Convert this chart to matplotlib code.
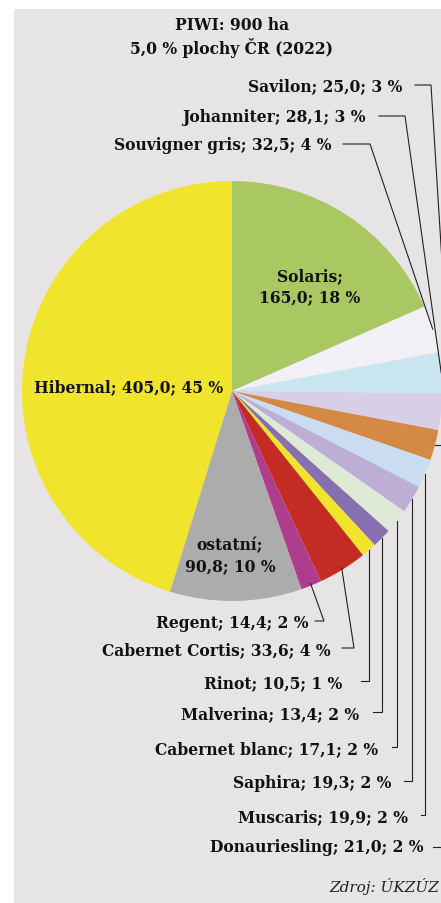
import matplotlib
matplotlib.use("Agg")
import matplotlib.pyplot as plt
import numpy as np

# ---- data ----
varieties = ["Solaris", "Souvigner gris", "Johanniter", "Savilon", "Donauriesling",
             "Muscaris", "Saphira", "Cabernet blanc", "Malverina", "Rinot",
             "Cabernet Cortis", "Regent", "ostatní", "Hibernal"]
hectares = [165.0, 32.5, 28.1, 25.0, 21.0, 19.9, 19.3, 17.1, 13.4, 10.5, 33.6, 14.4, 90.8, 405.0]
shares = [18, 4, 3, 3, 2, 2, 2, 2, 2, 1, 4, 2, 10, 45]
colors = ["#a9c862", "#f3eff7", "#c8e5f0", "#d6cfe7", "#d48a42", "#c9dcf1", "#bdaed6",
          "#deead6", "#8670b0", "#f1e42c", "#c42b22", "#ae3d8e", "#acacac", "#f1e42c"]
title_lines = ["PIWI: 900 ha", "5,0 % plochy ČR (2022)"]
source = "Zdroj: ÚKZÚZ"

W, H = 441, 904
def Y(y):
    return H - y

def fmt(v):
    return f"{v:.1f}".replace(".", ",")

fig = plt.figure(figsize=(W / 100, H / 100), dpi=100)
fig.patch.set_facecolor("white")
ax = fig.add_axes([0, 0, 1, 1])
ax.set_axis_off()

# grey panel
ax.add_patch(plt.Rectangle((14, 0), W, Y(10), facecolor="#e6e4e5", edgecolor="none", zorder=0))

cx, cy, R = 232, Y(392), 210
wedges, _ = ax.pie(hectares, colors=colors, startangle=90, counterclock=False,
                   center=(cx, cy), radius=R, frame=True,
                   wedgeprops=dict(linewidth=0))
ax.set_xlim(0, W)
ax.set_ylim(0, H)
ax.set_aspect("auto")
ax.set_axis_off()

FONT = dict(family="DejaVu Serif", fontweight="bold", fontsize=11.2, color="#111111")

def anchor(i, k=1.0):
    w = wedges[i]
    th = np.deg2rad((w.theta1 + w.theta2) / 2)
    return cx + R * k * np.cos(th), cy + R * k * np.sin(th)

def lbl(i):
    return f"{varieties[i]}; {fmt(hectares[i])}; {shares[i]} %"

# title
ax.text(232, Y(25), title_lines[0], ha="center", va="center", **FONT)
ax.text(232, Y(48), title_lines[1], ha="center", va="center", **FONT)

# inside labels
ax.text(310, Y(287), "Solaris;\n" + f"{fmt(hectares[0])}; {shares[0]} %", ha="center",
        va="center", linespacing=1.3, **FONT)
ax.text(230, Y(556), "ostatní;\n" + f"{fmt(hectares[12])}; {shares[12]} %", ha="center",
        va="center", linespacing=1.3, **FONT)
ax.text(223, Y(388), lbl(13), ha="right", va="center", **FONT)

LINE = dict(color="#222222", lw=0.8, zorder=5, solid_joinstyle="miter")

# top labels: (index, text right x, line y, line start x, elbow x, anchor factor)
top = [(3, 402, 86, 415, 431, 1.05), (2, 366, 117, 379, 405, 1.0), (1, 332, 145, 343, 370, 1.0)]
for i, tx, ly, x0, ex, k in top:
    ax.text(tx, Y(ly + 1), lbl(i), ha="right", va="center", **FONT)
    axx, ayy = anchor(i, k)
    ax.plot([x0, ex, axx], [Y(ly), Y(ly), ayy], **LINE)

# bottom labels with slanted leaders
slant = [(11, 308, 622, 315, 324), (10, 331, 649, 342, 354)]
for i, tx, ly, x0, ex in slant:
    ax.text(tx, Y(ly + 2), lbl(i), ha="right", va="center", **FONT)
    axx, ayy = anchor(i, 0.99)
    ax.plot([x0, ex, axx], [Y(ly), Y(ly), ayy], **LINE)

# bottom labels with vertical leaders
vert = [(9, 342, 682, 361), (8, 359, 713, 373), (7, 378, 748, 392),
        (6, 391, 782, 404), (5, 408, 816, 421)]
for i, tx, ly, x0 in vert:
    ax.text(tx, Y(ly + 2), lbl(i), ha="right", va="center", **FONT)
    axx, ayy = anchor(i, 1.0)
    ax.plot([x0, axx, axx], [Y(ly), Y(ly), ayy], **LINE)

# Donauriesling (leader runs off the right edge)
tx, ly, x0 = 423, 848, 433
ax.text(tx, Y(ly), lbl(4), ha="right", va="center", **FONT)
axx, ayy = anchor(4, 1.0)
ax.plot([axx, 452, 452, x0], [ayy, ayy, Y(ly), Y(ly)], **LINE)

# source
ax.text(439, Y(887), source, ha="right", va="center", family="DejaVu Serif",
        style="italic", fontsize=11.0, color="#222222")

fig.savefig("out.png", dpi=100, facecolor="white")
